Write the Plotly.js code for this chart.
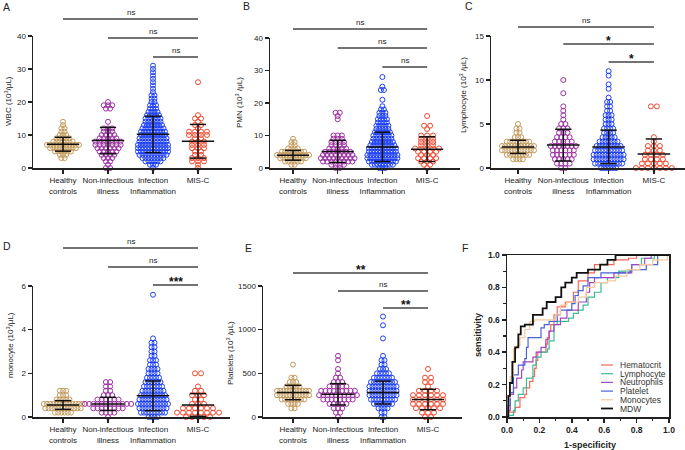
<!DOCTYPE html>
<html>
<head>
<meta charset="utf-8">
<script src="https://cdn.plot.ly/plotly-3.0.1.min.js"></script>
<style>
  html, body { margin: 0; padding: 0; background: #fff; }
  #chart { width: 685px; height: 450px; }
</style>
</head>
<body>
<div id="chart"></div>
<script>
// groups shown in panels A-E
const groupLabels = ["Healthy<br>controls", "Non-infectious<br>illness", "Infection<br>Inflammation", "MIS-C"];
const groupColors = ["#c49b5c", "#9c31a2", "#1e40f5", "#f0482e"];

// each count array = number of patients per bin, bin i sits at value i * bin
// A: WBC (bin 1)
const wbcBin = 1;
const wbcHealthy = [0, 0, 0, 2, 3, 6, 9, 11, 7, 5, 3, 2, 2, 1, 1];
const wbcNonInf = [2, 1, 2, 3, 4, 5, 6, 7, 7, 5, 4, 3, 3, 0, 1, 0, 0, 0, 2, 3, 1];
const wbcInfect = [1, 3, 6, 8, 10, 11, 11, 11, 10, 10, 9, 9, 8, 7, 6, 6, 5, 4, 3, 3, 2, 2, 2, 1, 1, 1, 1, 1, 1, 1, 1, 1];
const wbcMisc = [1, 1, 3, 3, 2, 2, 3, 3, 3, 2, 4, 4, 1, 2, 1, 2, 1, 0, 0, 0, 0, 0, 0, 0, 0, 0, 1];
const wbcMean = [7.2, 8.3, 10.2, 8.1];
const wbcSD = [2.1, 4.0, 5.5, 5.1];
const wbcTicks = [0, 10, 20, 30, 40];
const wbcSig = ["ns", "ns", "ns"];

// B: PMN (bin 1)
const pmnBin = 1;
const pmnHealthy = [0, 2, 6, 9, 11, 8, 4, 2, 2, 1];
const pmnNonInf = [2, 4, 8, 9, 8, 7, 5, 4, 4, 3, 3, 0, 0, 0, 0, 1, 1, 2];
const pmnInfect = [3, 8, 10, 11, 11, 10, 10, 9, 8, 7, 7, 6, 5, 5, 4, 4, 3, 3, 2, 1, 0, 1, 0, 0, 2, 1, 0, 0, 1];
const pmnMisc = [1, 2, 3, 4, 3, 4, 5, 3, 3, 3, 3, 0, 1, 2, 0, 0, 1];
const pmnMean = [3.9, 5.1, 6.5, 5.8];
const pmnSD = [1.5, 3.4, 4.5, 3.8];
const pmnTicks = [0, 10, 20, 30, 40];
const pmnSig = ["ns", "ns", "ns"];

// C: lymphocyte (bin 0.5)
const lymBin = 0.5;
const lymHealthy = [0, 0, 4, 8, 11, 11, 8, 3, 2, 2, 1];
const lymNonInf = [2, 4, 5, 6, 6, 7, 5, 4, 3, 3, 2, 1, 1, 1, 1, 0, 0, 1, 0, 0, 1];
const lymInfect = [6, 10, 11, 11, 10, 9, 7, 5, 4, 4, 3, 3, 3, 2, 2, 2, 1, 0, 1, 1, 0, 1, 1];
const lymMisc = [7, 5, 4, 4, 3, 3, 1, 1, 0, 0, 0, 0, 0, 0, 2];
const lymMean = [2.4, 2.6, 2.4, 1.6];
const lymSD = [0.75, 1.8, 1.9, 1.7];
const lymTicks = [0, 5, 10, 15];
const lymSig = ["ns", "*", "*"];

// D: monocyte (bin 0.2)
const monoBin = 0.2;
const monoHealthy = [0, 6, 12, 13, 5, 3, 3];
const monoNonInf = [1, 4, 8, 12, 6, 3, 2, 2, 2];
const monoInfect = [4, 9, 10, 11, 10, 9, 8, 7, 6, 5, 4, 4, 3, 3, 2, 2, 2, 2, 1, 0, 0, 0, 0, 0, 0, 0, 0, 0, 1];
const monoMisc = [5, 8, 6, 3, 2, 3, 2, 1, 0, 0, 2];
const monoMean = [0.55, 0.6, 0.97, 0.55];
const monoSD = [0.2, 0.3, 0.68, 0.52];
const monoTicks = [0, 2, 4, 6];
const monoSig = ["ns", "ns", "***"];

// E: platelets (bin 50)
const pltBin = 50;
const pltHealthy = [0, 0, 2, 4, 8, 11, 11, 5, 3, 2, 0, 0, 1];
const pltNonInf = [1, 2, 3, 5, 8, 10, 9, 5, 3, 2, 1, 1, 0, 1, 1];
const pltInfect = [2, 2, 4, 7, 9, 10, 10, 10, 9, 7, 5, 3, 2, 2, 1, 0, 0, 0, 1, 0, 0, 1, 0, 1];
const pltMisc = [2, 3, 5, 6, 6, 6, 4, 1, 2, 2, 0, 1];
const pltMean = [280, 260, 280, 200];
const pltSD = [82, 122, 131, 117];
const pltTicks = [0, 500, 1000, 1500];
const pltSig = ["**", "ns", "**"];

// F: ROC curves, points where each step rises
const rocNames = ["Hematocrit", "Lymphocyte", "Neutrophils", "Platelet", "Monocytes", "MDW"];
const rocColors = ["#f26a5a", "#3dbb93", "#a446c2", "#4a63d8", "#f7c99c", "#111111"];
const hctFpr = [0, 0.005, 0.05, 0.08, 0.11, 0.12, 0.14, 0.16, 0.17, 0.18, 0.19, 0.24, 0.25, 0.26, 0.27, 0.29, 0.31, 0.36, 0.41, 0.44, 0.50, 0.54, 0.66, 0.75, 0.80, 1.0];
const hctTpr = [0, 0.03, 0.06, 0.12, 0.14, 0.18, 0.22, 0.25, 0.30, 0.35, 0.40, 0.45, 0.49, 0.53, 0.57, 0.63, 0.68, 0.71, 0.77, 0.84, 0.89, 0.94, 0.97, 0.98, 1.0, 1.0];
const lymFpr = [0, 0.01, 0.04, 0.05, 0.07, 0.10, 0.12, 0.16, 0.18, 0.21, 0.25, 0.26, 0.29, 0.31, 0.38, 0.41, 0.44, 0.47, 0.50, 0.54, 0.58, 0.62, 0.69, 0.77, 0.83, 0.91, 1.0];
const lymTpr = [0, 0.01, 0.04, 0.10, 0.14, 0.18, 0.24, 0.32, 0.37, 0.40, 0.42, 0.47, 0.57, 0.59, 0.61, 0.64, 0.66, 0.69, 0.74, 0.77, 0.83, 0.86, 0.90, 0.94, 0.98, 1.0, 1.0];
const neuFpr = [0, 0.005, 0.02, 0.04, 0.06, 0.09, 0.10, 0.16, 0.18, 0.21, 0.24, 0.26, 0.29, 0.33, 0.37, 0.44, 0.49, 0.51, 0.54, 0.66, 0.77, 0.85, 0.89, 1.0];
const neuTpr = [0, 0.04, 0.14, 0.18, 0.24, 0.29, 0.34, 0.37, 0.40, 0.43, 0.48, 0.53, 0.57, 0.61, 0.66, 0.71, 0.77, 0.83, 0.86, 0.89, 0.94, 0.98, 1.0, 1.0];
const pltFpr = [0, 0.006, 0.02, 0.04, 0.07, 0.11, 0.12, 0.13, 0.21, 0.23, 0.26, 0.31, 0.33, 0.40, 0.42, 0.44, 0.47, 0.50, 0.58, 0.76, 0.86, 0.93, 1.0];
const pltTpr = [0, 0.07, 0.15, 0.26, 0.32, 0.36, 0.43, 0.49, 0.55, 0.57, 0.59, 0.63, 0.66, 0.70, 0.75, 0.78, 0.81, 0.86, 0.89, 0.91, 0.94, 1.0, 1.0];
const monFpr = [0, 0.01, 0.02, 0.04, 0.06, 0.08, 0.11, 0.14, 0.17, 0.30, 0.33, 0.37, 0.44, 0.49, 0.54, 0.62, 0.67, 0.74, 0.82, 0.90, 0.99, 1.0];
const monTpr = [0, 0.12, 0.25, 0.42, 0.44, 0.49, 0.54, 0.59, 0.60, 0.63, 0.69, 0.71, 0.74, 0.80, 0.83, 0.84, 0.87, 0.91, 0.94, 0.97, 1.0, 1.0];
const mdwFpr = [0, 0.008, 0.018, 0.033, 0.05, 0.07, 0.085, 0.11, 0.16, 0.22, 0.245, 0.30, 0.335, 0.36, 0.40, 0.43, 0.50, 0.575, 0.62, 0.67, 1.0];
const mdwTpr = [0, 0.13, 0.21, 0.34, 0.43, 0.51, 0.56, 0.57, 0.63, 0.67, 0.71, 0.74, 0.80, 0.83, 0.86, 0.89, 0.91, 0.94, 0.97, 1.0, 1.0];

const W = 685, H = 450;
const FONT = "Liberation Sans, Arial, sans-serif";
const INK = "#222";

// panel boxes in px (l, r, t, b), first group centre g0 and group spacing sp
const panels = [
  { bin: wbcBin, counts: [wbcHealthy, wbcNonInf, wbcInfect, wbcMisc], mean: wbcMean, sd: wbcSD, ticks: wbcTicks, sig: wbcSig,
    title: "WBC (10<sup>3</sup>/μL)", letter: "A",
    l: 33, r: 232, t: 36, b: 168, g0: 63, sp: 45, tx: 8, ty: 101, lx: 6, ly: 7, br: [19, 38, 57] },
  { bin: pmnBin, counts: [pmnHealthy, pmnNonInf, pmnInfect, pmnMisc], mean: pmnMean, sd: pmnSD, ticks: pmnTicks, sig: pmnSig,
    title: "PMN (10<sup>3</sup> /μL)", letter: "B",
    l: 270, r: 460, t: 38, b: 168, g0: 293, sp: 44.7, tx: 239, ty: 102, lx: 246, ly: 6, br: [29, 48, 67] },
  { bin: lymBin, counts: [lymHealthy, lymNonInf, lymInfect, lymMisc], mean: lymMean, sd: lymSD, ticks: lymTicks, sig: lymSig,
    title: "Lymphocyte (10<sup>3</sup> /μL)", letter: "C",
    l: 491, r: 685, t: 36, b: 168, g0: 518, sp: 45.3, tx: 463, ty: 95, lx: 469, ly: 6, br: [27, 44, 62] },
  { bin: monoBin, counts: [monoHealthy, monoNonInf, monoInfect, monoMisc], mean: monoMean, sd: monoSD, ticks: monoTicks, sig: monoSig,
    title: "monocyte (10<sup>3</sup>/μL)", letter: "D",
    l: 33, r: 230, t: 286, b: 417, g0: 63, sp: 45, tx: 10, ty: 345, lx: 7, ly: 246, br: [248, 267, 285] },
  { bin: pltBin, counts: [pltHealthy, pltNonInf, pltInfect, pltMisc], mean: pltMean, sd: pltSD, ticks: pltTicks, sig: pltSig,
    title: "Platelets (10<sup>3</sup> /μL)", letter: "E",
    l: 263, r: 462, t: 286, b: 417, g0: 293, sp: 45, tx: 230, ty: 353, lx: 248, ly: 248, br: [273, 291, 308] },
];
const swarmStep = [3.2, 4.2, 3, 6]; // px between neighbours in a row

const traces = [];
const shapes = [];
const annotations = [];
const layout = {
  width: W, height: H,
  margin: { l: 0, r: 0, t: 0, b: 0 },
  paper_bgcolor: "#fff", plot_bgcolor: "rgba(0,0,0,0)",
  showlegend: false,
  font: { family: FONT, color: INK, size: 8 },
};

// text placed by pixel position, centred on it
function note(px, py, text, font, extra) {
  annotations.push(Object.assign({
    xref: "paper", yref: "paper", x: px / W, y: 1 - py / H,
    xanchor: "center", yanchor: "middle", text: text, showarrow: false, font: font,
  }, extra || {}));
}

panels.forEach((p, i) => {
  const s = i === 0 ? "" : String(i + 1);
  const xa = "x" + s, ya = "y" + s;

  p.counts.forEach((counts, g) => {
    const step = swarmStep[g] / p.sp;
    const xs = [], ys = [];
    counts.forEach((n, k) => {
      for (let j = 0; j < n; j++) {
        xs.push(g + (j - (n - 1) / 2) * step);
        ys.push(k * p.bin);
      }
    });
    traces.push({
      type: "scatter", mode: "markers", x: xs, y: ys, xaxis: xa, yaxis: ya,
      cliponaxis: false, hoverinfo: "skip",
      marker: { symbol: "circle-open", size: 5, color: groupColors[g], line: { width: 1 } },
    });
  });

  // mean with SD whiskers
  const mx = [], my = [];
  p.mean.forEach((m, g) => {
    const lo = m - p.sd[g], hi = m + p.sd[g];
    mx.push(g - 0.36, g + 0.36, null, g, g, null, g - 0.18, g + 0.18, null, g - 0.18, g + 0.18, null);
    my.push(m, m, null, lo, hi, null, hi, hi, null, lo, lo, null);
  });
  traces.push({
    type: "scatter", mode: "lines", x: mx, y: my, xaxis: xa, yaxis: ya,
    hoverinfo: "skip", line: { color: "#111", width: 1.5 },
  });

  layout["xaxis" + s] = {
    domain: [p.l / W, p.r / W], anchor: ya,
    range: [(p.l - p.g0) / p.sp, (p.r - p.g0) / p.sp],
    tickvals: [0, 1, 2, 3], ticktext: groupLabels, tickangle: 0,
    ticks: "outside", ticklen: 4, tickwidth: 1.5, tickcolor: INK,
    showline: true, linewidth: 1.5, linecolor: INK,
    showgrid: false, zeroline: false, tickfont: { size: 8, color: INK },
  };
  layout["yaxis" + s] = {
    domain: [1 - p.b / H, 1 - p.t / H], anchor: xa,
    range: [0, p.ticks[p.ticks.length - 1]],
    tickvals: p.ticks,
    ticks: "outside", ticklen: 4, tickwidth: 1.5, tickcolor: INK,
    showline: true, linewidth: 1.5, linecolor: INK,
    showgrid: false, zeroline: false, tickfont: { size: 8, color: INK },
  };

  note(p.tx, p.ty, p.title, { size: 8, color: INK }, { textangle: -90 });
  note(p.lx, p.ly, p.letter, { size: 10.5, color: INK });

  // significance brackets: groups 0,1,2 against MIS-C
  p.br.forEach((py, k) => {
    shapes.push({
      type: "line", xref: xa, yref: "paper", x0: k, x1: 3, y0: 1 - py / H, y1: 1 - py / H,
      line: { color: "#444", width: 1.4 },
    });
    const star = p.sig[k] !== "ns";
    annotations.push({
      xref: xa, yref: "paper", x: (k + 3) / 2, y: 1 - (py - (star ? 3 : 6.5)) / H,
      xanchor: "center", yanchor: "middle", text: p.sig[k], showarrow: false,
      font: star ? { size: 12, color: "#111", weight: "bold" } : { size: 8, color: INK },
    });
  });
});

// F: ROC
const rocFpr = [hctFpr, lymFpr, neuFpr, pltFpr, monFpr, mdwFpr];
const rocTpr = [hctTpr, lymTpr, neuTpr, pltTpr, monTpr, mdwTpr];
rocNames.forEach((name, i) => {
  const w = name === "MDW" ? 1.8 : 1.2;
  traces.push({
    type: "scatter", mode: "lines", name: name, x: rocFpr[i], y: rocTpr[i],
    xaxis: "x6", yaxis: "y6", hoverinfo: "skip",
    line: { color: rocColors[i], width: w, shape: "hv" },
  });
  // compact legend inside the plot
  const ry = 365 + i * 8.7;
  shapes.push({
    type: "line", xref: "paper", yref: "paper", x0: 601 / W, x1: 613 / W, y0: 1 - ry / H, y1: 1 - ry / H,
    line: { color: rocColors[i], width: w },
  });
  note(619, ry, name, { size: 8.5, color: "#333" }, { xanchor: "left", borderpad: 0 });
});

const rocAxis = {
  range: [0, 1], dtick: 0.2, tickformat: ".1f",
  ticks: "outside", ticklen: 4, tickwidth: 1.5, tickcolor: INK,
  minor: { ticks: "outside", ticklen: 2.5, tickwidth: 1.2, dtick: 0.1, tickcolor: INK },
  showline: true, mirror: true, linewidth: 1.5, linecolor: INK,
  showgrid: false, zeroline: false, tickfont: { size: 8.5, color: INK, weight: "bold" },
};
layout.xaxis6 = Object.assign({}, rocAxis, { domain: [507 / W, 669 / W], anchor: "y6" });
layout.yaxis6 = Object.assign({}, rocAxis, { domain: [1 - 417 / H, 1 - 255 / H], anchor: "x6" });

note(590, 445, "1-specificity", { size: 9, color: INK, weight: "bold" });
note(478, 335, "sensitivity", { size: 9, color: INK, weight: "bold" }, { textangle: -90 });
note(465, 248, "F", { size: 10.5, color: INK });

layout.shapes = shapes;
layout.annotations = annotations;

Plotly.newPlot("chart", traces, layout, { displayModeBar: false, staticPlot: true });
</script>
</body>
</html>
